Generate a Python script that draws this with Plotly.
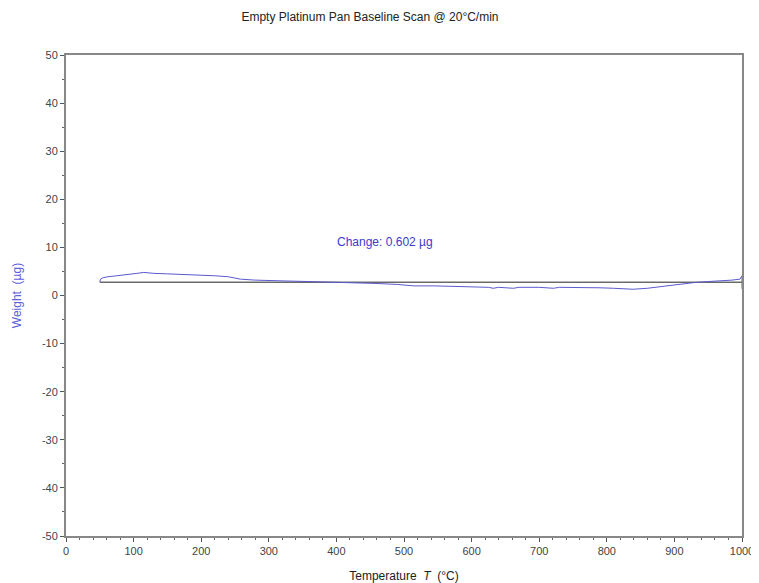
import plotly.graph_objects as go

temperature = [50, 51, 55, 62, 75, 90, 105, 115, 130, 150, 175, 200, 220, 240, 250, 258, 280, 310, 330, 360, 395, 430, 460, 490, 515, 545, 578, 605, 625, 632, 640, 662, 670, 700, 721, 730, 760, 790, 810, 825, 839, 860, 889, 910, 930, 950, 970, 985, 997, 1000, 1000]
weight = [2.8, 3.4, 3.7, 3.9, 4.1, 4.3, 4.6, 4.8, 4.6, 4.5, 4.4, 4.3, 4.1, 3.9, 3.6, 3.4, 3.2, 3.0, 3.0, 2.9, 2.8, 2.6, 2.5, 2.3, 2.0, 2.0, 1.9, 1.8, 1.7, 1.5, 1.7, 1.5, 1.7, 1.7, 1.5, 1.7, 1.7, 1.6, 1.5, 1.4, 1.3, 1.5, 2.0, 2.4, 2.7, 2.9, 3.0, 3.2, 3.4, 4.1, 1.4]

baseline_t = [50, 1000]
baseline_w = [2.77, 2.77]

x_ticks = [0, 100, 200, 300, 400, 500, 600, 700, 800, 900, 1000]
y_ticks = [-50, -40, -30, -20, -10, 0, 10, 20, 30, 40, 50]
y_tick_text = ["-50", "-40", "-30", "-20", "-10", "0", "10", "20", "30", "40", "50"]

change_label = "Change: 0.602 µg"
label_pos = (472, 11.1)

FONT = "Liberation Sans, Arial, sans-serif"

fig = go.Figure()
fig.add_trace(go.Scatter(x=baseline_t, y=baseline_w, mode="lines",
                         line=dict(color="#222222", width=1), hoverinfo="skip"))
fig.add_trace(go.Scatter(x=temperature, y=weight, mode="lines",
                         line=dict(color="#5a5acf", width=1)))

fig.add_annotation(x=label_pos[0], y=label_pos[1], text=change_label, showarrow=False,
                   font=dict(color="#3a3ad0", size=12, family=FONT))

axis_common = dict(showgrid=False, zeroline=False, showline=True, linecolor="#888888",
                   linewidth=2, mirror=True, ticks="outside", ticklen=4, tickcolor="#555555",
                   automargin=False,
                   tickfont=dict(size=11, color="#444444", family=FONT))

fig.update_layout(
    width=751, height=575,
    margin=dict(l=58, r=17, t=47, b=47),
    paper_bgcolor="white", plot_bgcolor="white",
    showlegend=False,
    title=dict(text="Empty Platinum Pan Baseline Scan @ 20°C/min", x=0.482, xanchor="center",
               y=0.984, yanchor="middle",
               font=dict(size=12, color="#222222", family=FONT)),
    xaxis=dict(range=[0, 1000], tickvals=x_ticks,
               minor=dict(dtick=20, ticks="outside", ticklen=2, tickcolor="#666666"),
               title=dict(text="Temperature  <i>T</i>  (°C)", standoff=16,
                          font=dict(size=12, color="#222222", family=FONT)),
               **axis_common),
    yaxis=dict(range=[-50, 50], tickvals=y_ticks, ticktext=y_tick_text,
               minor=dict(dtick=5, ticks="outside", ticklen=2, tickcolor="#666666"),
               title=dict(text="Weight  (µg)", standoff=18,
                          font=dict(size=12, color="#6060dd", family=FONT)),
               **axis_common),
)

fig.write_html("out.html")
